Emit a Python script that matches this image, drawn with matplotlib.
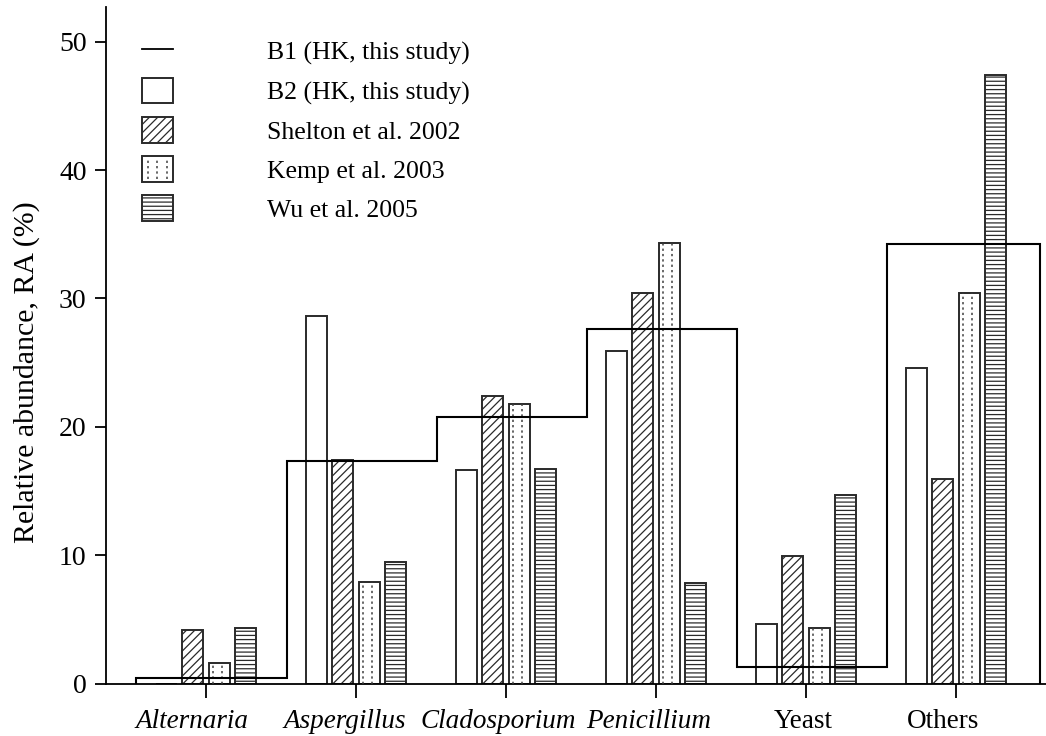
import numpy as np
import matplotlib.pyplot as plt
import matplotlib.transforms as mtransforms
from matplotlib.patches import Rectangle
from matplotlib.lines import Line2D
from matplotlib.legend_handler import HandlerBase

plt.rcParams['font.family'] = ['Liberation Serif', 'DejaVu Serif']
plt.rcParams['hatch.linewidth'] = 0.9

# 各类真菌的相对丰度 (%)
categories = ['Alternaria', 'Aspergillus', 'Cladosporium', 'Penicillium', 'Yeast', 'Others']
italic_names = ['Alternaria', 'Aspergillus', 'Cladosporium', 'Penicillium']
b1 = [0.45, 17.3, 20.8, 27.6, 1.3, 34.2]
b2 = [0.0, 28.6, 16.6, 25.9, 4.6, 24.6]
shelton = [4.2, 17.4, 22.4, 30.4, 9.9, 15.9]
kemp = [1.6, 7.9, 21.8, 34.3, 4.3, 30.4]
wu = [4.3, 9.5, 16.7, 7.8, 14.7, 47.4]

series_labels = ['B1 (HK, this study)', 'B2 (HK, this study)', 'Shelton et al. 2002',
                 'Kemp et al. 2003', 'Wu et al. 2005']

edge = '#2a2a2a'
x = np.arange(len(categories))
width = 0.14
offsets = [-0.263, -0.087, 0.087, 0.263]
label_shift = [-14, -11, -8, -7, -3, -13]  # 横轴标签左移 (像素)


def add_dots(ax, rects):
    # 在柱内画竖直虚点线
    for r in rects:
        for f in (0.22, 0.62):
            xx = r.get_x() + f * r.get_width()
            ax.plot([xx, xx], [0, r.get_height()], ls=(0, (1.5, 2.0)), color='0.25',
                    lw=1.1, zorder=3)


class DottedBox(HandlerBase):
    def create_artists(self, legend, orig_handle, xdescent, ydescent,
                       width, height, fontsize, trans):
        box = Rectangle((-xdescent, -ydescent), width, height, facecolor='white',
                        edgecolor=edge, lw=1.4, transform=trans)
        arts = [box]
        for f in (0.2, 0.5, 0.8):
            xx = -xdescent + f * width
            arts.append(Line2D([xx, xx], [-ydescent + 2, -ydescent + height - 2],
                               ls=(0, (1.5, 2.0)), color='0.25', lw=1.1, transform=trans))
        return arts


fig = plt.figure(figsize=(10.46, 7.36), dpi=100)
ax = fig.add_axes([0.1013, 0.0713, 0.8987, 0.9192])

ax.bar(x + offsets[0], b2, width, facecolor='white', edgecolor=edge, lw=1.4, zorder=2)
ax.bar(x + offsets[1], shelton, width, facecolor='white', edgecolor=edge, lw=1.4,
       hatch='////', zorder=2)
kemp_bars = ax.bar(x + offsets[2], kemp, width, facecolor='white', edgecolor=edge,
                   lw=1.4, zorder=2)
add_dots(ax, kemp_bars)
ax.bar(x + offsets[3], wu, width, facecolor='white', edgecolor=edge, lw=1.4,
       hatch='----', zorder=2)

# B1 阶梯线
edges = np.append(x - 0.46, x[-1] + 0.56)
edges[0] = -0.467
ax.stairs(b1, edges, color='black', lw=1.5, zorder=5)

ax.set_xlim(-0.667, 5.6)
ax.set_ylim(0, 52.7)
ax.set_yticks([0, 10, 20, 30, 40, 50])
ax.set_xticks(x)
ax.set_xticklabels([])
# 横轴类别名称 (属名用斜体)
for xi, name, dx in zip(x, categories, label_shift):
    tr = ax.get_xaxis_transform() + mtransforms.ScaledTranslation(
        dx / 100, -25 / 100, fig.dpi_scale_trans)
    ax.text(xi, 0, name, transform=tr, ha='center', va='top', fontsize=19.5,
            fontstyle='italic' if name in italic_names else 'normal')
ax.tick_params(axis='x', direction='out', length=10, width=1.3)
ax.tick_params(axis='y', direction='out', length=8, width=1.3, labelsize=20, pad=6)
ax.spines['top'].set_visible(False)
ax.spines['right'].set_visible(False)
ax.spines['left'].set_linewidth(1.3)
ax.spines['bottom'].set_linewidth(1.3)
ax.set_ylabel('Relative abundance, RA (%)', fontsize=21.5)
ax.yaxis.set_label_coords(-0.0702, 0.46)

h_b1 = Line2D([], [], color='black', lw=1.3)
h_b2 = Rectangle((0, 0), 1, 1, facecolor='white', edgecolor=edge, lw=1.4)
h_sh = Rectangle((0, 0), 1, 1, facecolor='white', edgecolor=edge, lw=1.4, hatch='////')
h_ke = Rectangle((0, 0), 1, 1, facecolor='white', edgecolor=edge, lw=1.4)
h_wu = Rectangle((0, 0), 1, 1, facecolor='white', edgecolor=edge, lw=1.4, hatch='----')
fig.legend([h_b1, h_b2, h_sh, h_ke, h_wu], series_labels,
           handler_map={h_ke: DottedBox()},
           loc='upper left', bbox_to_anchor=(0.1358, 0.948), frameon=False,
           fontsize=18.5, handlelength=1.2, handleheight=1.15, handletextpad=3.66,
           labelspacing=0.49, borderpad=0, borderaxespad=0)

fig.savefig('out.png', dpi=100)
